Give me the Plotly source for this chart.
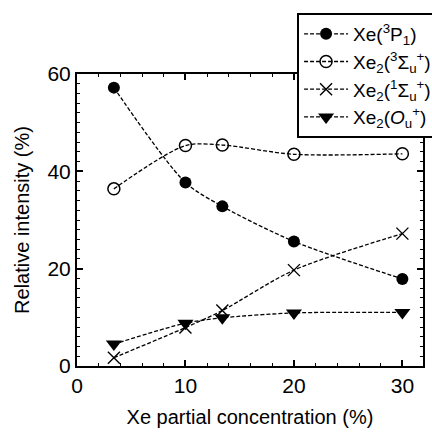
import plotly.graph_objects as go

# Xe partial concentration (%)
conc = [3.4, 10, 13.4, 20, 30]

# Relative intensity (%) of each emission component
xe_3p1 = [57.2, 37.7, 32.8, 25.6, 17.9]
xe2_3sigma = [36.4, 45.3, 45.4, 43.5, 43.6]
xe2_1sigma = [1.7, 7.9, 11.4, 19.7, 27.2]
xe2_0u = [4.5, 8.8, 9.9, 10.9, 11.0]

names = [
    "Xe(<sup>3</sup>P<sub>1</sub>)",
    "Xe<sub>2</sub>(<sup>3</sup>Σ<sub>u</sub><sup>+</sup>)",
    "Xe<sub>2</sub>(<sup>1</sup>Σ<sub>u</sub><sup>+</sup>)",
    "Xe<sub>2</sub>(<i>O</i><sub>u</sub><sup>+</sup>)",
]

series = [xe_3p1, xe2_3sigma, xe2_1sigma, xe2_0u]
markers = [
    dict(symbol="circle", size=12, color="black"),
    dict(symbol="circle-open", size=12, color="black", line=dict(width=1.5)),
    dict(symbol="x-thin-open", size=12, color="black", line=dict(width=1.4)),
    dict(symbol="triangle-down", size=14, color="black"),
]

FONT = "Liberation Sans, Arial, sans-serif"

fig = go.Figure()
for name, ys, mk in zip(names, series, markers):
    fig.add_trace(go.Scatter(
        x=conc, y=ys, name=name, mode="lines+markers",
        line=dict(color="black", width=1.3, dash="4px,2px", shape="spline", smoothing=0.8),
        marker=mk,
    ))

axis_common = dict(
    showline=True, linecolor="black", linewidth=2, mirror="allticks",
    ticks="inside", ticklen=6, tickwidth=1.5, tickcolor="black",
    showgrid=False, zeroline=False, automargin=False,
    tickfont=dict(family=FONT, size=21, color="black"),
    title_font=dict(family=FONT, size=20, color="black"),
    minor=dict(ticks="inside", ticklen=3, tickwidth=1.2, tickcolor="black", dtick=2),
)

fig.update_xaxes(
    range=[0, 31.9], tickvals=[0, 10, 20, 30],
    title_text="Xe partial concentration (%)", title_standoff=14,
    **axis_common,
)
fig.update_yaxes(
    range=[0, 60], tickvals=[0, 20, 40, 60],
    title_text="Relative intensity (%)", title_standoff=12,
    **axis_common,
)

fig.update_layout(
    width=432, height=432,
    margin=dict(l=77, r=9, t=74, b=66, autoexpand=False),
    paper_bgcolor="white", plot_bgcolor="white",
    font=dict(family=FONT, color="black"),
    legend=dict(
        x=0.636, y=0.781, xanchor="left", yanchor="bottom",
        bgcolor="white", bordercolor="black", borderwidth=2,
        font=dict(family=FONT, size=19, color="black"),
        itemwidth=44, tracegroupgap=0,
    ),
)

fig.write_html("out.html")
